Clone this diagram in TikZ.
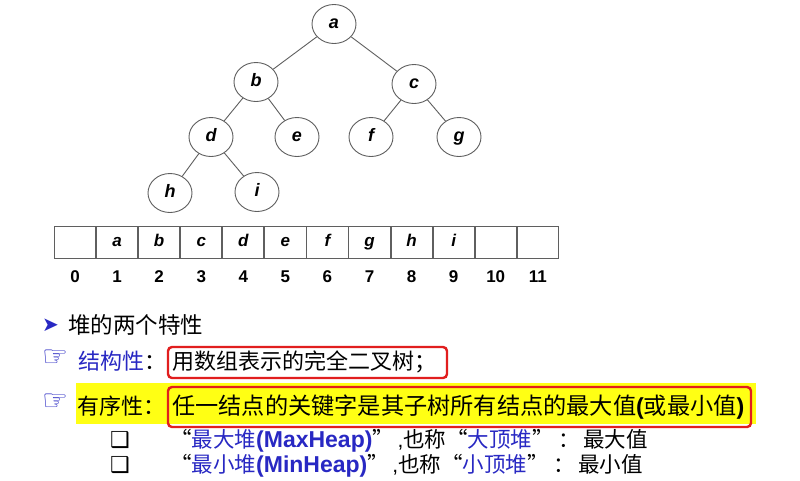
\documentclass[tikz,border=0pt]{standalone}
\usepackage{fontspec}
\setmainfont{Liberation Sans}
\newfontfamily\cjk{Noto Sans CJK SC}
\newfontfamily\symf{DejaVu Sans}
\usetikzlibrary{shapes.geometric}
\definecolor{qblue}{RGB}{40,40,195}
\definecolor{hiyel}{RGB}{255,255,20}
\definecolor{boxred}{RGB}{225,30,30}
\definecolor{edgegray}{RGB}{95,95,95}
\newcommand{\lat}[1]{{\rmfamily\bfseries\fontsize{23}{23}\selectfont #1}}
\newcommand{\latn}[1]{{\rmfamily\fontsize{21}{21}\selectfont #1}}
\tikzset{
  tnode/.style={ellipse,draw=edgegray,line width=0.9pt,fill=white,minimum width=44pt,minimum height=39pt,inner sep=0pt,font=\fontsize{18}{18}\selectfont\bfseries\itshape,text height=9.5pt,text depth=0pt},
  tedge/.style={draw=edgegray,line width=0.9pt},
  cell/.style={draw=edgegray,line width=0.9pt,minimum width=41.17pt,minimum height=32pt,inner sep=0pt,anchor=west,font=\fontsize{17}{17}\selectfont\bfseries\itshape,text height=9pt,text depth=0pt},
  idx/.style={inner sep=0pt,font=\fontsize{17}{17}\selectfont\bfseries},
  txt/.style={inner sep=0pt,anchor=west},
  handicon/.style={inner sep=0pt,anchor=west,text=qblue,font=\symf\bfseries\fontsize{29}{29}\selectfont},
  sqicon/.style={inner sep=0pt,anchor=west,font=\symf\bfseries\fontsize{22}{22}\selectfont},
  redbox/.style={draw=boxred,line width=2.4pt,rounded corners=4pt},
}
\begin{document}
\begin{tikzpicture}[x=1pt,y=-1pt]
\useasboundingbox[fill=white] (0,0) rectangle (800,480);
% tree
\node[tnode] (a) at (334,24) {a};
\node[tnode] (b) at (256,82) {b};
\node[tnode] (c) at (414,84) {c};
\node[tnode] (d) at (211,137) {d};
\node[tnode] (e) at (297,137) {e};
\node[tnode] (f) at (371,137) {f};
\node[tnode] (g) at (459,137) {g};
\node[tnode] (h) at (170,193) {h};
\node[tnode] (i) at (257,192) {i};
\draw[tedge] (a) -- (b);
\draw[tedge] (a) -- (c);
\draw[tedge] (b) -- (d);
\draw[tedge] (b) -- (e);
\draw[tedge] (c) -- (f);
\draw[tedge] (c) -- (g);
\draw[tedge] (d) -- (h);
\draw[tedge] (d) -- (i);
% array
\node[cell] (c0) at (54,242) {};
\node[cell] (c1) at (c0.east) {a};
\node[cell] (c2) at (c1.east) {b};
\node[cell] (c3) at (c2.east) {c};
\node[cell] (c4) at (c3.east) {d};
\node[cell] (c5) at (c4.east) {e};
\node[cell] (c6) at (c5.east) {f};
\node[cell] (c7) at (c6.east) {g};
\node[cell] (c8) at (c7.east) {h};
\node[cell] (c9) at (c8.east) {i};
\node[cell] (c10) at (c9.east) {};
\node[cell] (c11) at (c10.east) {};
\foreach \k in {0,...,11}{
  \node[idx] (n\k) at ([yshift=-35pt]c\k.center) {\k};
}
% text lines
\node[txt,text=qblue,font=\symf\fontsize{20}{20}\selectfont] (arr) at (42,325) {➤};
\node[txt,font=\cjk\fontsize{22.5}{23}\selectfont] (t1) at (68,325) {堆的两个特性};

\node[handicon] (hand1) at (42,358) {☞};
\node[txt,font=\cjk\fontsize{22}{22}\selectfont] (t2) at (78,361) {\textcolor{qblue}{结构性}：};
\draw[redbox] (168,347) rectangle (447,378);
\node[txt,font=\cjk\fontsize{22}{22}\selectfont] (t2b) at (172,362) {用数组表示的完全二叉树；};

\fill[hiyel] (76,383) rectangle (756,424);
\node[handicon] (hand2) at (42,402) {☞};
\node[txt,font=\cjk\fontsize{22}{22}\selectfont] (t3) at (77,406) {有序性：};
\draw[redbox] (168,387) rectangle (751,427);
\node[txt,font=\cjk\fontsize{23.2}{23}\selectfont] (t3b) at (172,407) {任一结点的关键字是其子树所有结点的最大值{\rmfamily\bfseries(}或最小值{\rmfamily\bfseries)}};

\node[sqicon] (sq1) at (110,440) {❑};
\node[txt,font=\cjk\fontsize{21.5}{21.5}\selectfont] (t4) at (170,441) {“\textcolor{qblue}{最大堆\lat{(MaxHeap)}}”\latn{\,,}也称“\textcolor{qblue}{大顶堆}”\hspace{5pt}：\hspace{3pt}最大值};
\node[sqicon] (sq2) at (110,465) {❑};
\node[txt,font=\cjk\fontsize{21.5}{21.5}\selectfont] (t5) at (170,466) {“\textcolor{qblue}{最小堆\lat{(MinHeap)}}”\latn{\,,}也称“\textcolor{qblue}{小顶堆}”\hspace{5pt}：\hspace{3pt}最小值};
\end{tikzpicture}
\end{document}
